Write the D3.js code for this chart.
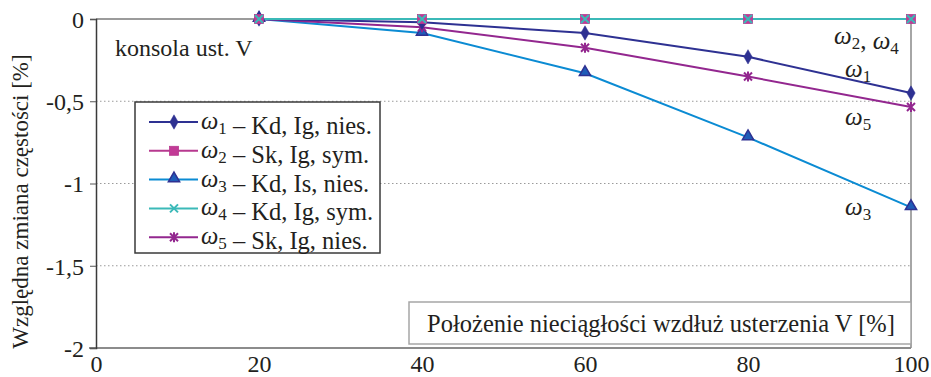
<!DOCTYPE html>
<html>
<head>
<meta charset="utf-8">
<script src="https://cdn.jsdelivr.net/npm/d3@7"></script>
<style>
  body { margin: 0; background: #fff; }
</style>
</head>
<body>
<svg id="chart" width="931" height="377"></svg>
<script>
// Positions of the discontinuity along the V-tail [%]
const positions = [20, 40, 60, 80, 100];

// Relative frequency change [%] for each mode
const omega1 = [0, -0.02, -0.085, -0.23, -0.45];
const omega2 = [0, 0, 0, 0, 0];
const omega3 = [0, -0.085, -0.33, -0.72, -1.145];
const omega4 = [0, 0, 0, 0, 0];
const omega5 = [0, -0.05, -0.175, -0.35, -0.535];

const xTicks = [0, 20, 40, 60, 80, 100];
const yTicks = [0, -0.5, -1, -1.5, -2];
const yTickLabels = ["0", "-0,5", "-1", "-1,5", "-2"];

const legendNames = ["Kd, Ig, nies.", "Sk, Ig, sym.", "Kd, Is, nies.", "Kd, Ig, sym.", "Sk, Ig, nies."];

const series = [
  { idx: 1, values: omega1, color: "#2e3192", marker: "diamond", fill: "#2e3192", stroke: "#2e3192" },
  { idx: 2, values: omega2, color: "#b7398f", marker: "square", fill: "#c23a96", stroke: "#b7398f" },
  { idx: 3, values: omega3, color: "#0b8bd3", marker: "triangle", fill: "#1f5cb8", stroke: "#2e3192" },
  { idx: 4, values: omega4, color: "#3bb9b8", marker: "cross", fill: "none", stroke: "#3bb9b8" },
  { idx: 5, values: omega5, color: "#93278f", marker: "star", fill: "none", stroke: "#93278f" }
];

const SERIF = "'Liberation Serif'";
const INK = "#231f20";
const svg = d3.select("#chart");
const margin = { left: 96, right: 20, top: 19, bottom: 29 };
const W = 931, H = 377;

// every text element gets the serif face explicitly
function txt(sel) {
  return sel.append("text").style("font-family", SERIF).attr("fill", INK);
}

const x = d3.scaleLinear().domain([0, 100]).range([margin.left, W - margin.right]);
const y = d3.scaleLinear().domain([-2, 0]).range([H - margin.bottom, margin.top]);

// dotted horizontal gridlines
svg.append("g").selectAll("line")
  .data(yTicks.filter(v => v !== 0 && v !== -2))
  .join("line")
  .attr("x1", x(0)).attr("x2", x(100))
  .attr("y1", d => y(d)).attr("y2", d => y(d))
  .attr("stroke", "#9a9a9a").attr("stroke-width", 1)
  .attr("stroke-dasharray", "1.5,2.5");

// plot frame: top, right, bottom grey; left axis darker
svg.append("line").attr("x1", x(0)).attr("x2", x(100)).attr("y1", y(0)).attr("y2", y(0))
  .attr("stroke", "#7a7a7a").attr("stroke-width", 1.5);
svg.append("line").attr("x1", x(100)).attr("x2", x(100)).attr("y1", y(0)).attr("y2", y(-2))
  .attr("stroke", "#a6a6a6").attr("stroke-width", 2);
svg.append("line").attr("x1", x(0) - 7).attr("x2", x(100)).attr("y1", y(-2)).attr("y2", y(-2))
  .attr("stroke", "#8c8c8c").attr("stroke-width", 2);

// y axis
const yAxis = d3.axisLeft(y).tickValues(yTicks).tickSize(6)
  .tickFormat((d, i) => yTickLabels[i]);
const gy = svg.append("g").attr("transform", `translate(${x(0)},0)`).call(yAxis);
gy.attr("font-family", null).attr("font-size", null);
gy.select(".domain").attr("stroke", "#3a3a3a").attr("stroke-width", 1.5);
gy.selectAll(".tick line").attr("stroke", "#555");
gy.selectAll(".tick text")
  .style("font-family", SERIF).style("font-size", "24px")
  .attr("fill", INK).attr("x", -12).attr("dy", "0.35em");

// x axis labels (the frame already carries the baseline)
const xAxis = d3.axisBottom(x).tickValues(xTicks).tickSize(0).tickFormat(d3.format("d"));
const gx = svg.append("g").attr("transform", `translate(0,${y(-2)})`).call(xAxis);
gx.attr("font-family", null).attr("font-size", null);
gx.select(".domain").remove();
gx.selectAll(".tick text")
  .style("font-family", SERIF).style("font-size", "24px")
  .attr("fill", INK).attr("y", 7);

// y axis title
txt(svg)
  .attr("transform", `translate(28,${(y(0) + y(-2)) / 2 + 18}) rotate(-90)`)
  .attr("text-anchor", "middle")
  .style("font-size", "23px")
  .text("Względna zmiana częstości [%]");

// marker shapes
function drawMarker(g, s, cx, cy) {
  if (s.marker === "diamond") {
    g.append("path").attr("d", d3.symbol(d3.symbolDiamond, 60)())
      .attr("transform", `translate(${cx},${cy})`)
      .attr("fill", s.fill).attr("stroke", s.stroke).attr("stroke-width", 0.5);
  } else if (s.marker === "square") {
    const a = 9;
    g.append("rect").attr("x", cx - a / 2).attr("y", cy - a / 2).attr("width", a).attr("height", a)
      .attr("fill", s.fill).attr("stroke", s.stroke).attr("stroke-width", 0.8);
  } else if (s.marker === "triangle") {
    g.append("path").attr("d", d3.symbol(d3.symbolTriangle, 55)())
      .attr("transform", `translate(${cx},${cy - 1})`)
      .attr("fill", s.fill).attr("stroke", s.stroke).attr("stroke-width", 1.5);
  } else if (s.marker === "cross") {
    const a = 4;
    g.append("path").attr("d", `M${cx - a},${cy - a}L${cx + a},${cy + a}M${cx - a},${cy + a}L${cx + a},${cy - a}`)
      .attr("stroke", s.stroke).attr("stroke-width", 2).attr("fill", "none");
  } else if (s.marker === "star") {
    const a = 4;
    g.append("path").attr("d",
      `M${cx - a},${cy - a}L${cx + a},${cy + a}M${cx - a},${cy + a}L${cx + a},${cy - a}M${cx},${cy - a - 1}L${cx},${cy + a + 1}`)
      .attr("stroke", s.stroke).attr("stroke-width", 2).attr("fill", "none");
  }
}

// series lines and markers (the constant-zero series are drawn last, on top)
const line = d3.line().x((d, i) => x(positions[i])).y(d => y(d));
const order = [2, 4, 0, 1, 3]; // ω3, ω5, ω1, ω2, ω4
order.forEach(i => {
  const s = series[i];
  svg.append("path").datum(s.values).attr("d", line)
    .attr("fill", "none").attr("stroke", s.color).attr("stroke-width", 2);
});
order.forEach(i => {
  const s = series[i];
  const g = svg.append("g");
  s.values.forEach((v, j) => drawMarker(g, s, x(positions[j]), y(v)));
});

// annotation
txt(svg).attr("x", 115).attr("y", 56).style("font-size", "24px").text("konsola ust. V");

// omega with a numeric subscript, appended to a text element
function omega(t, n) {
  t.append("tspan").style("font-style", "italic").text("ω");
  t.append("tspan").style("font-size", "17px").attr("dy", 5).text(n);
  t.append("tspan").attr("dy", -5).text("");
}

// mode labels near the right edge
function label(xp, yp, subs) {
  const t = txt(svg).attr("x", xp).attr("y", yp).style("font-size", "25px");
  subs.forEach((n, k) => {
    if (k > 0) t.append("tspan").text(", ");
    omega(t, n);
  });
}
label(834, 44, ["2", "4"]);
label(845, 77, ["1"]);
label(845, 125, ["5"]);
label(845, 215, ["3"]);

// x axis title box
const xtBox = svg.append("g");
xtBox.append("rect").attr("x", 409).attr("y", 302).attr("width", x(100) - 409).attr("height", 42)
  .attr("fill", "#fff").attr("stroke", "#a6a6a6").attr("stroke-width", 1.5);
txt(xtBox).attr("x", 661).attr("y", 332).attr("text-anchor", "middle").style("font-size", "24.5px")
  .text("Położenie nieciągłości wzdłuż usterzenia V [%]");

// legend
const lg = svg.append("g");
lg.append("rect").attr("x", 135).attr("y", 102).attr("width", 245).attr("height", 151)
  .attr("fill", "#fff").attr("stroke", "#3a3a3a").attr("stroke-width", 1.5);
series.forEach((s, i) => {
  const cy = 122 + i * 28.8;
  lg.append("line").attr("x1", 149).attr("x2", 198).attr("y1", cy).attr("y2", cy)
    .attr("stroke", s.color).attr("stroke-width", 2);
  drawMarker(lg, s, 174, cy);
  const t = txt(lg).attr("x", 201).attr("y", cy + 7).style("font-size", "24.5px");
  omega(t, String(s.idx));
  t.append("tspan").text(" – " + legendNames[i]);
});
</script>
</body>
</html>
